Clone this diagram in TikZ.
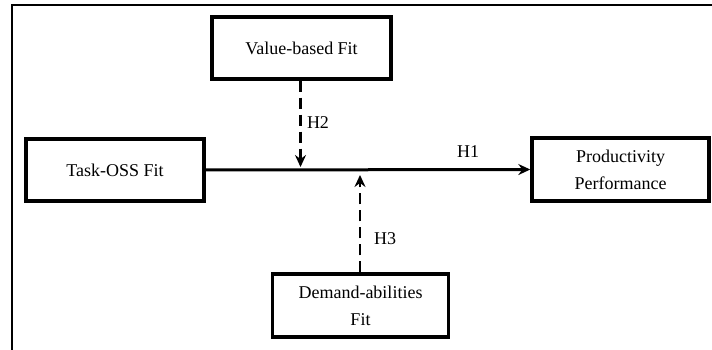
\documentclass[tikz,border=0pt]{standalone}
\usepackage{fontspec}
\setmainfont{Liberation Serif}
\usetikzlibrary{arrows.meta}
\begin{document}
\begin{tikzpicture}[x=1pt,y=-1pt,
  box/.style={draw,line width=3.4pt,rectangle,align=center,inner sep=0pt,
    font=\fontsize{18}{27}\selectfont},
  mainarr/.style={line width=3pt,-{Stealth[length=12pt,width=11pt,inset=4pt]}},
  dasharr/.style={line width=2.8pt,dash pattern=on 11pt off 6pt,-{Stealth[length=12pt,width=11pt,inset=4pt]}},
  lab/.style={font=\fontsize{18}{20}\selectfont,inner sep=0pt}]
\useasboundingbox (0,0) rectangle (712,350);
\draw[line width=2.2pt] (12,350) -- (12,5) -- (712,5);
\node[box,minimum width=179pt,minimum height=62pt] (val) at (301.5,48) {Value-based Fit};
\node[box,minimum width=178pt,minimum height=62pt] (task) at (115,170) {Task-OSS Fit};
\node[box,minimum width=177pt,minimum height=63pt] (prod) at (620.5,169.5) {Productivity\\Performance};
\node[box,minimum width=176pt,minimum height=63pt] (dem) at (360.5,305.5) {Demand-abilities\\Fit};
\coordinate (m2) at (300.5,167);
\coordinate (m3) at (360,175);
\draw[mainarr] (task.east) -- (prod.west);
\draw[dasharr] (val.south -| m2) -- (m2);
\draw[dasharr] (dem.north -| m3) -- (m3);
\node[lab] (h1) at (468,152) {H1};
\node[lab] (h2) at (318,123) {H2};
\node[lab] (h3) at (385,239) {H3};
\end{tikzpicture}
\end{document}
